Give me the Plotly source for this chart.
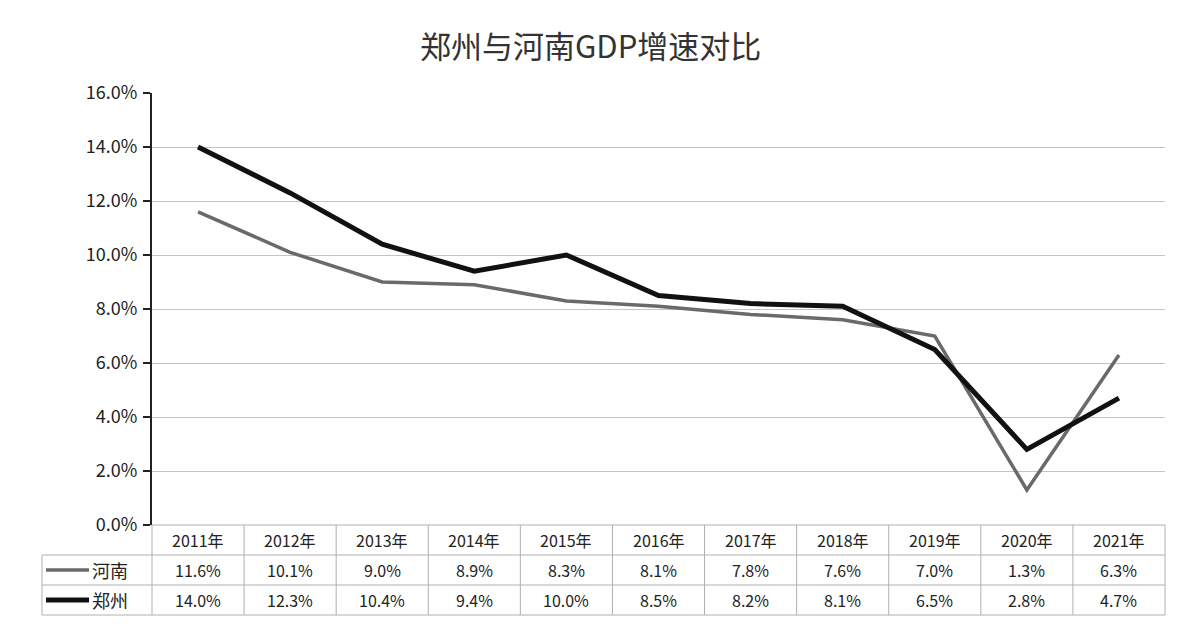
import plotly.graph_objects as go

years = ["2011年", "2012年", "2013年", "2014年", "2015年", "2016年", "2017年", "2018年", "2019年", "2020年", "2021年"]
henan = [11.6, 10.1, 9.0, 8.9, 8.3, 8.1, 7.8, 7.6, 7.0, 1.3, 6.3]
zhengzhou = [14.0, 12.3, 10.4, 9.4, 10.0, 8.5, 8.2, 8.1, 6.5, 2.8, 4.7]
series_names = ["河南", "郑州"]
y_ticks = [0, 2, 4, 6, 8, 10, 12, 14, 16]

OFF = 8  # page body margin
W, H = 1183 - OFF, 640 - OFF
L, R, T, B = 152, 1165, 93, 525
FONT = "Noto Sans CJK SC"
GRAY = "#6a6a6a"
DARK = "#111111"

def px(x):
    return (x - L) / (R - L)

def py(y):
    return (B - y) / (B - T)

xs = list(range(len(years)))
fig = go.Figure()
fig.add_trace(go.Scatter(x=xs, y=henan, mode="lines", name=series_names[0],
                         line=dict(color=GRAY, width=3.5), showlegend=False))
fig.add_trace(go.Scatter(x=xs, y=zhengzhou, mode="lines", name=series_names[1],
                         line=dict(color=DARK, width=5), showlegend=False))

shapes = []
annotations = []
n = len(years)
colw = (R - L) / n
row_y = [525, 555, 585, 615]
line_c = "#b0b0b0"

def hline(x0, x1, y, color=line_c, w=1):
    shapes.append(dict(type="line", xref="paper", yref="paper", x0=px(x0), x1=px(x1), y0=py(y), y1=py(y),
                       line=dict(color=color, width=w)))

def text(x, y, s, size, color="#222"):
    annotations.append(dict(x=px(x), y=py(y), xref="paper", yref="paper", text=s, showarrow=False,
                            xanchor="center", yanchor="middle", font=dict(family=FONT, size=size, color=color)))

hline(L, R, 525)
for yy in row_y[1:]:
    hline(42, R, yy)
for i in range(n + 1):
    xx = L + i * colw
    shapes.append(dict(type="line", xref="paper", yref="paper", x0=px(xx), x1=px(xx), y0=py(525), y1=py(615),
                       line=dict(color=line_c, width=1)))
shapes.append(dict(type="line", xref="paper", yref="paper", x0=px(42), x1=px(42), y0=py(555), y1=py(615),
                   line=dict(color=line_c, width=1)))

for i, yr in enumerate(years):
    cx = L + (i + 0.5) * colw
    text(cx, 540, yr, 16)
    text(cx, 570, f"{henan[i]:.1f}%", 16)
    text(cx, 600, f"{zhengzhou[i]:.1f}%", 16)

for name, yy, col, w in [(series_names[0], 570, GRAY, 3.5), (series_names[1], 600, DARK, 5)]:
    hline(46, 89, yy, col, w)
    text(110, yy, name, 18)

text(590, 45, "郑州与河南GDP增速对比", 31, "#333")

fig.update_layout(
    width=W, height=H,
    margin=dict(l=L - OFF, r=1183 - R, t=T - OFF, b=640 - B),
    paper_bgcolor="white", plot_bgcolor="white",
    shapes=shapes, annotations=annotations,
    xaxis=dict(range=[-0.5, n - 0.5], showticklabels=False, showgrid=False, zeroline=False, ticks="", fixedrange=True),
    yaxis=dict(range=[0, 16], tickvals=y_ticks, ticktext=[f"{v:.1f}%" for v in y_ticks],
               showgrid=True, gridcolor="#c4c4c4", gridwidth=1, zeroline=False,
               showline=True, linecolor="#222", linewidth=2, ticks="outside", ticklen=7, tickcolor="#222", tickwidth=2,
               tickfont=dict(family=FONT, size=18, color="#222"), ticklabelstandoff=2),
    font=dict(family=FONT),
)

fig.write_html("out.html")
